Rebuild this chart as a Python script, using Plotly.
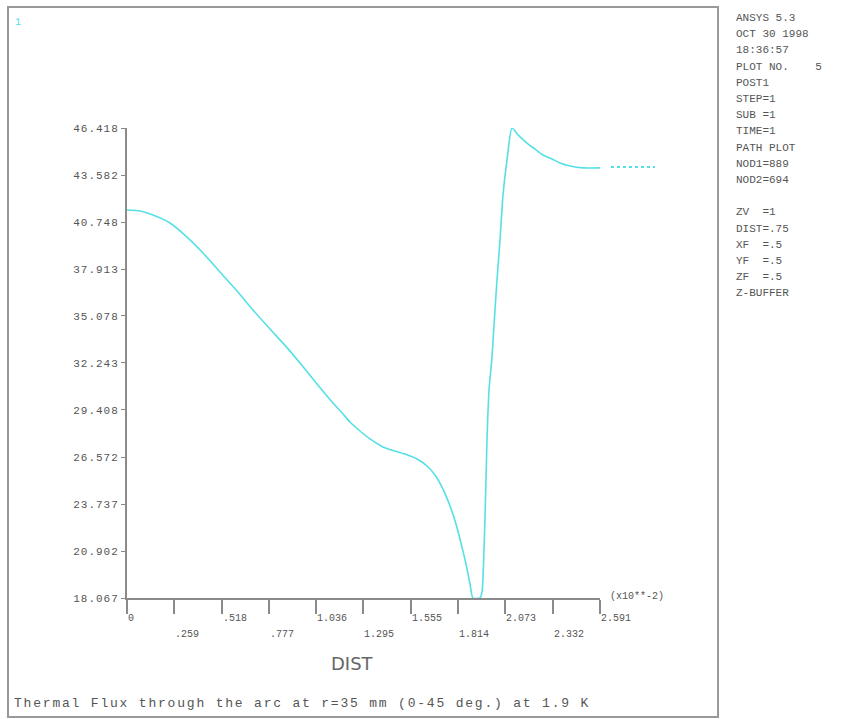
import plotly.graph_objects as go

# ---- data ----
dist = [0.0, 0.0712, 0.1424, 0.2355, 0.3287, 0.4163, 0.5094, 0.6026, 0.6902,
        0.7833, 0.8764, 0.9477, 1.0408, 1.1284, 1.1832, 1.2216, 1.2763, 1.3311,
        1.4023, 1.4681, 1.5228, 1.5886, 1.6433, 1.6872, 1.7310, 1.7693, 1.8022,
        1.8296, 1.8570, 1.8789, 1.8953, 1.9337, 1.9447, 1.9611, 1.9720, 1.9830,
        1.9994, 2.0104, 2.0268, 2.0432, 2.0597, 2.0816, 2.1090, 2.1419, 2.1911,
        2.2349, 2.2788, 2.3281, 2.3719, 2.4267, 2.4979, 2.591]
flux = [41.47, 41.41, 41.17, 40.69, 39.84, 38.88, 37.73, 36.59, 35.44,
        34.29, 33.17, 32.24, 30.98, 29.83, 29.17, 28.68, 28.14, 27.66,
        27.18, 26.93, 26.75, 26.45, 26.03, 25.49, 24.64, 23.62, 22.53,
        21.38, 20.12, 18.91, 18.067, 18.067, 18.43, 22.95, 27.60, 30.61,
        32.60, 34.54, 37.25, 39.66, 42.38, 44.49, 46.418, 46.00, 45.51,
        45.15, 44.79, 44.55, 44.31, 44.13, 44.01, 44.01]

x_ticks = [0.0, 0.259, 0.518, 0.777, 1.036, 1.295, 1.555, 1.814, 2.073, 2.332, 2.591]
x_tick_labels = ["0", ".259", ".518", ".777", "1.036", "1.295", "1.555", "1.814",
                 "2.073", "2.332", "2.591"]
y_ticks = [18.067, 20.902, 23.737, 26.572, 29.408, 32.243, 35.078, 37.913,
           40.748, 43.582, 46.418]
y_tick_labels = ["18.067", "20.902", "23.737", "26.572", "29.408", "32.243",
                 "35.078", "37.913", "40.748", "43.582", "46.418"]

info_lines = ["ANSYS 5.3", "OCT 30 1998", "18:36:57", "PLOT NO.    5", "POST1",
              "STEP=1", "SUB =1", "TIME=1", "PATH PLOT", "NOD1=889", "NOD2=694",
              "", "ZV  =1", "DIST=.75", "XF  =.5", "YF  =.5", "ZF  =.5", "Z-BUFFER"]

x_title = "DIST"
x_scale_note = "(x10**-2)"
caption = "Thermal Flux through the arc at r=35 mm (0-45 deg.) at 1.9 K"

# ---- layout geometry (pixels) ----
W, H = 851, 719
L, R, T, B = 127, 600, 128, 598
PW, PH = R - L, B - T

def px(xp):
    return (xp - L) / PW

def py(yp):
    return (B - yp) / PH

CYAN = "#55e0e6"
GREY = "#8a8a8a"
TXT = "#555555"
MONO = "Liberation Mono, DejaVu Sans Mono, monospace"

def spaced(s, sp):
    return '<span style="letter-spacing:%spx">%s</span>' % (sp, s)

fig = go.Figure()
fig.add_trace(go.Scatter(x=dist, y=flux, mode="lines",
                         line=dict(color=CYAN, width=1.6, shape="spline",
                                   smoothing=0.6),
                         showlegend=False, cliponaxis=True))

fig.update_layout(
    width=W, height=H,
    margin=dict(l=L, r=W - R, t=T, b=H - B, pad=0),
    paper_bgcolor="white", plot_bgcolor="white",
    xaxis=dict(range=[0, x_ticks[-1]], tickvals=x_ticks, showticklabels=False,
               ticks="outside", ticklen=14, tickcolor=GREY, tickwidth=1.5,
               showline=True, linecolor=GREY, linewidth=2, showgrid=False,
               zeroline=False, fixedrange=True),
    yaxis=dict(range=[y_ticks[0], y_ticks[-1]], tickvals=y_ticks,
               ticktext=[spaced(t, 1) for t in y_tick_labels], ticks="outside",
               ticklen=4, tickcolor=GREY, tickwidth=1, showline=True,
               linecolor=GREY, linewidth=2, showgrid=False, zeroline=False,
               tickfont=dict(family=MONO, size=11, color=TXT),
               fixedrange=True),
)

ann = []
# x tick labels, alternating rows, left-aligned at the tick
for i, (v, t) in enumerate(zip(x_ticks, x_tick_labels)):
    ypix = 618 if i % 2 == 0 else 634
    ann.append(dict(x=v, xref="x", y=py(ypix), yref="paper", text=t,
                    showarrow=False, xanchor="left", yanchor="middle",
                    xshift=-1, font=dict(family=MONO, size=10, color=TXT)))
# scale note
ann.append(dict(x=px(608), y=py(596), xref="paper", yref="paper",
                text=x_scale_note, showarrow=False, xanchor="left",
                yanchor="middle", font=dict(family=MONO, size=10, color=TXT)))
# axis title
ann.append(dict(x=px(352), y=py(663), xref="paper", yref="paper", text=x_title,
                showarrow=False, xanchor="center", yanchor="middle",
                font=dict(family="DejaVu Sans, sans-serif", size=18, color="#666666")))
# caption
ann.append(dict(x=px(12), y=py(703), xref="paper", yref="paper",
                text=spaced(caption, 1.8), showarrow=False, xanchor="left",
                yanchor="middle", font=dict(family=MONO, size=13, color=TXT)))
# window number
ann.append(dict(x=px(13), y=py(22), xref="paper", yref="paper", text="1",
                showarrow=False, xanchor="left", yanchor="middle",
                font=dict(family=MONO, size=10, color=CYAN)))
# info panel
for i, line in enumerate(info_lines):
    if not line:
        continue
    ann.append(dict(x=px(734), y=py(18 + 16.2 * i), xref="paper", yref="paper",
                    text=line.replace(" ", "&nbsp;"), showarrow=False,
                    xanchor="left", yanchor="middle",
                    font=dict(family=MONO, size=11, color=TXT)))
fig.update_layout(annotations=ann)

fig.update_layout(shapes=[
    # outer frame
    dict(type="rect", xref="paper", yref="paper", x0=px(8), x1=px(718),
         y0=py(717), y1=py(7), line=dict(color="#999999", width=2)),
    # curve label segment
    dict(type="line", xref="paper", yref="paper", x0=px(611), x1=px(655),
         y0=py(167), y1=py(167), line=dict(color=CYAN, width=2, dash="dot")),
])

fig.write_html("out.html")
